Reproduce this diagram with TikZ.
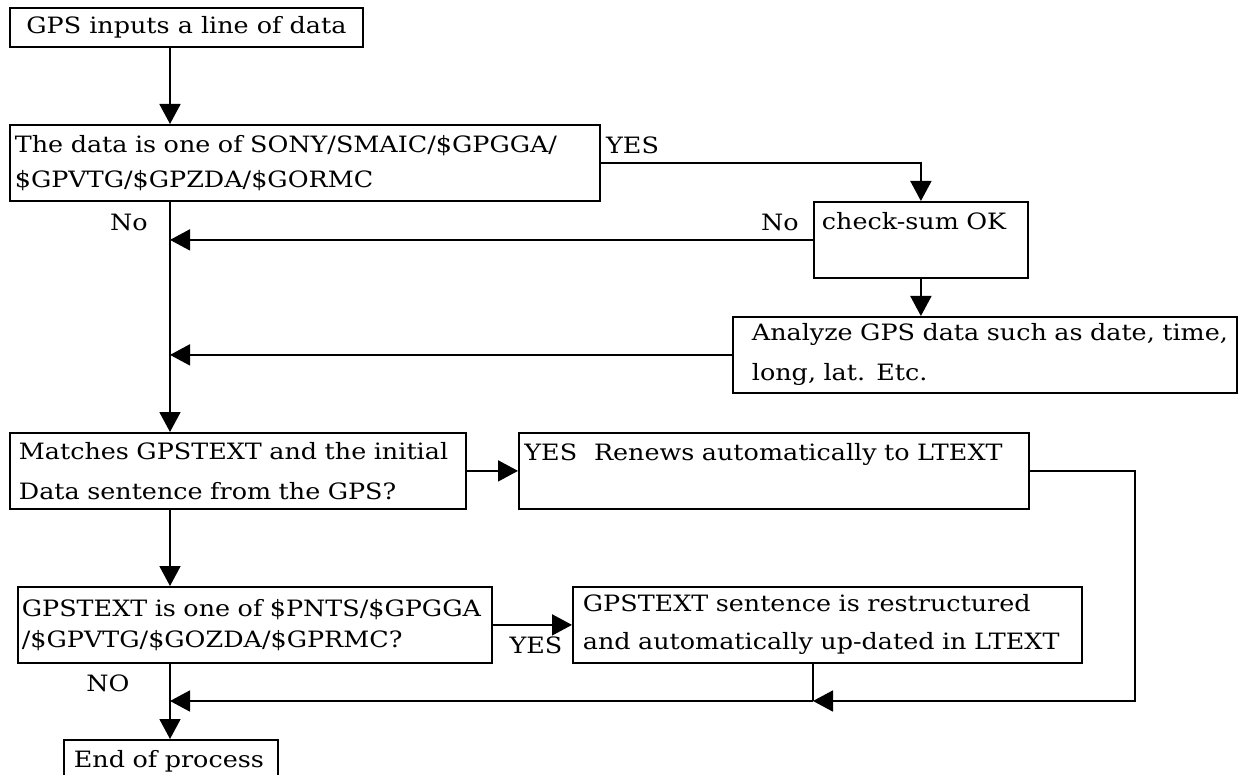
\documentclass[tikz,border=0pt]{standalone}
\usepackage{fontspec}
\setmainfont{DejaVu Serif}[FakeStretch=1.13]
\usetikzlibrary{arrows.meta}
\newcommand{\fsz}[1]{\fontsize{22.5}{#1}\selectfont}
\tikzset{
  box/.style={draw, line width=1.8pt, rectangle, anchor=north west, inner ysep=0pt, align=left},
  lbl/.style={inner sep=0pt, font=\fsz{24}},
  conn/.style={line width=1.8pt},
  arr/.style={conn, -{Triangle[length=20pt,width=21pt]}}
}
\begin{document}
\begin{tikzpicture}[x=1pt,y=-1pt]
\useasboundingbox (0,0) rectangle (1238,775);
\clip (0,0) rectangle (1238,775);
\fill[white] (0,0) rectangle (1238,775);
\coordinate (spine) at (170,0);
\coordinate (rc) at (1135,701);
\coordinate (mj) at (813,701);

\node[box, align=center, font=\fsz{24}, minimum width=353pt, minimum height=39pt, inner xsep=0pt] (b1) at (9,7) {GPS inputs a line of data};
\node[box, font=\fsz{35}, minimum width=590pt, minimum height=76pt, text width=580pt, inner xsep=5pt] (b2) at (9,124) {\mbox{The data is one of SONY/SMAIC/\$GPGGA/}\\\mbox{\$GPVTG/\$GPZDA/\$GORMC}};
\node[box, font=\fsz{38}, minimum width=214pt, minimum height=76pt, text width=198pt, inner xsep=8pt] (b3) at (813,201) {\mbox{check-sum OK}\\\mbox{}};
\node[box, font=\fsz{40}, minimum width=504pt, minimum height=76pt, text width=466pt, inner xsep=19pt] (b4) at (732,316) {\mbox{Analyze GPS data such as date, time,}\\\mbox{long, lat. Etc.}};
\node[box, font=\fsz{40}, minimum width=456pt, minimum height=76pt, text width=438pt, inner xsep=9pt] (b5) at (9,432) {\mbox{Matches GPSTEXT and the initial}\\\mbox{Data sentence from the GPS?}};
\node[box, font=\fsz{38}, minimum width=510pt, minimum height=76pt, text width=499pt, inner xsep=5.5pt] (b6) at (518,432) {\mbox{YES\hspace{0.75em}Renews automatically to LTEXT}\\\mbox{}};
\node[box, font=\fsz{31}, minimum width=474pt, minimum height=76pt, text width=466pt, inner xsep=4pt] (b7) at (17,586) {\mbox{GPSTEXT is one of \$PNTS/\$GPGGA}\\\mbox{/\$GPVTG/\$GOZDA/\$GPRMC?}};
\node[box, font=\fsz{38}, minimum width=509pt, minimum height=76pt, text width=489pt, inner xsep=10pt] (b8) at (572,586) {\mbox{GPSTEXT sentence is restructured}\\\mbox{and automatically up-dated in LTEXT}};
\node[box, font=\fsz{24}, minimum width=214pt, minimum height=42pt, text width=194pt, inner xsep=10pt] (end) at (63,739) {\mbox{End of process}};

\node[lbl, anchor=west] (yes1) at (606,145) {YES};
\node[lbl] (no1) at (780,222) {No};
\node[lbl] (no2) at (129,222) {No};
\node[lbl] (yes2) at (536,645) {YES};
\node[lbl] (no3) at (108,683) {NO};

\draw[arr] (spine |- b1.south) -- (spine |- b2.north);
\draw[arr] (b2.east) -| (b3.north);
\draw[arr] (b3.west) -- (spine |- b3.west);
\draw[arr] (b3.south) -- (b3.south |- b4.north);
\draw[arr] (b4.west) -- (spine |- b4.west);
\draw[arr] (spine |- b2.south) -- (spine |- b5.north);
\draw[arr] (b5.east) -- (b6.west);
\draw[arr] (b6.east) -| (rc) -- (mj);
\draw[conn] (b8.south -| mj) -- (mj);
\draw[arr] (mj) -- (spine |- mj);
\draw[arr] (spine |- b5.south) -- (spine |- b7.north);
\draw[arr] (b7.east) -- (b7.east -| b8.west);
\draw[arr] (spine |- b7.south) -- (spine |- end.north);
\end{tikzpicture}
\end{document}
